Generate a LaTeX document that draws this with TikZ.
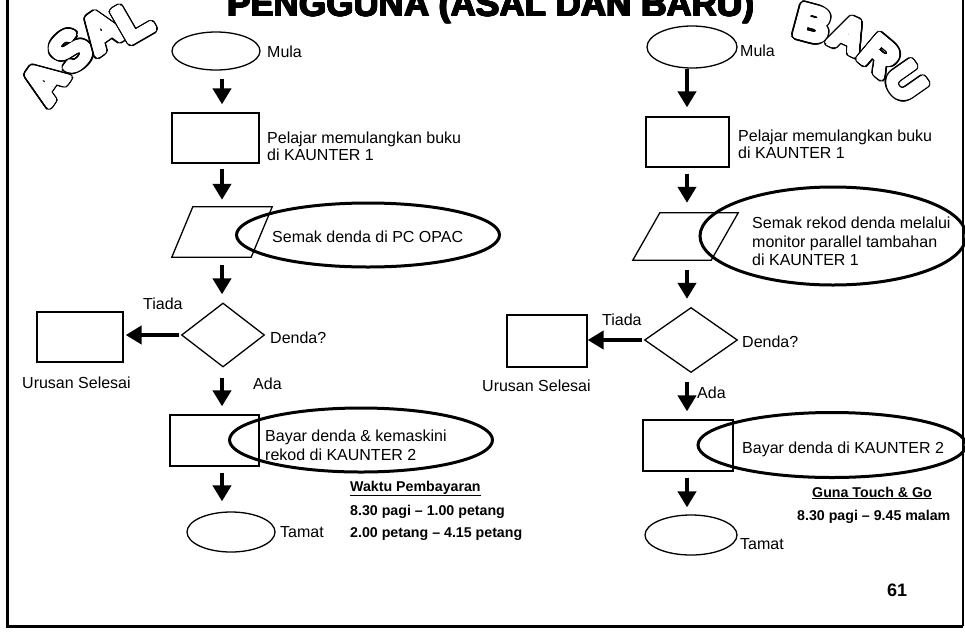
\documentclass[tikz,border=0pt]{standalone}
\usepackage{fontspec}
\setmainfont{Liberation Sans}
\usetikzlibrary{arrows.meta,shapes.geometric,calc}
% hollow (outlined) letter: black ring round a fattened white letter
\newcommand{\outletter}[5]{%
  \foreach \ang in {0,15,...,345}{%
    \node[olet, rotate=#3, text=black, font=\fontsize{#4}{#4}\selectfont\bfseries] at ($(#1,#2)+(\ang:4.2)$) {#5};
    \node[olet, rotate=#3, text=black, font=\fontsize{#4}{#4}\selectfont\bfseries] at ($(#1,#2)+(\ang:3.4)$) {#5};
  }%
  \foreach \ang in {0,15,...,345}{%
    \node[olet, rotate=#3, text=white, font=\fontsize{#4}{#4}\selectfont\bfseries] at ($(#1,#2)+(\ang:2.6)$) {#5};
  }%
  \foreach \ang in {0,45,...,315}{%
    \node[olet, rotate=#3, text=white, font=\fontsize{#4}{#4}\selectfont\bfseries] at ($(#1,#2)+(\ang:1.3)$) {#5};
  }%
  \node[olet, rotate=#3, text=white, font=\fontsize{#4}{#4}\selectfont\bfseries] at (#1,#2) {#5};
}
\tikzset{
  olet/.style={inner sep=0},
  lbl/.style={font=\fontsize{16}{19}\selectfont, inner sep=0, anchor=base west},
  sml/.style={font=\fontsize{14.2}{16}\selectfont\bfseries, inner sep=0, anchor=base west},
  ttl/.style={font=\fontsize{35}{40}\selectfont\bfseries, inner sep=0, anchor=base},
  oval/.style={ellipse, draw, line width=1.3pt, inner sep=0},
  bigoval/.style={ellipse, draw, line width=3pt, inner sep=0},
  boxn/.style={rectangle, draw, line width=1.3pt, inner sep=0},
  dia/.style={diamond, draw, line width=1.3pt, inner sep=0},
  parabox/.style={rectangle, inner sep=0},
  arr/.style={line width=4pt, -{Triangle[width=18pt,length=16pt]}}
}
\begin{document}
\begin{tikzpicture}[x=1pt,y=-1pt]
\useasboundingbox (0,0) rectangle (965,632);
\fill[white] (0,0) rectangle (965,632);
\clip (0,0) rectangle (965,632);

% frame
\draw[line width=3pt] (7,-10) -- (7,626) -- (963,626);
\draw[line width=2.5pt] (963,626) -- (963,-10);

% title (slightly heavier than plain bold)
\foreach \ang in {0,45,...,315}{\node[ttl] at ($(491,16)+(\ang:0.7)$) {PENGGUNA (ASAL DAN BARU)};}
\node[ttl] (title) at (491,16) {PENGGUNA (ASAL DAN BARU)};

% outlined words
\outletter{45}{82}{55}{52}{A}
\outletter{71}{51}{45}{52}{S}
\outletter{102}{31}{35}{52}{A}
\outletter{133}{21}{30}{52}{L}
\outletter{813}{24}{-15}{46}{B}
\outletter{849}{35}{-25}{46}{A}
\outletter{880}{56}{-40}{46}{R}
\outletter{906}{82}{-55}{46}{U}

\coordinate (lc) at (222,0);
\coordinate (rc) at (687,0);

% ---------- left (ASAL) ----------
\node[oval, minimum width=88pt, minimum height=38pt] (m1) at (216,51) {};
\node[boxn, minimum width=87pt, minimum height=50pt] (r1) at (215.5,138) {};
\node[parabox, minimum width=100pt, minimum height=50pt] (p1) at (222,232) {};
\draw[line width=1.3pt] ($(p1.north west)+(21,0)$) -- (p1.north east) -- ($(p1.south east)-(21,0)$) -- (p1.south west) -- cycle;
\node[bigoval, minimum width=263pt, minimum height=64pt] (e1) at (368,235) {};
\node[dia, minimum width=83pt, minimum height=64pt, aspect=1.3] (d1) at (223,335) {};
\node[boxn, minimum width=86pt, minimum height=50pt] (u1) at (80,337) {};
\node[boxn, minimum width=89pt, minimum height=51pt] (r2) at (214.5,440.5) {};
\node[bigoval, minimum width=263pt, minimum height=64pt] (e3) at (361,440) {};
\node[oval, minimum width=88pt, minimum height=40pt] (t1) at (231,532) {};

\draw[arr, shorten <=8pt, shorten >=8pt] (m1.south -| lc) -- (r1.north -| lc);
\draw[arr, shorten <=5pt, shorten >=7pt] (r1.south -| lc) -- (p1.north -| lc);
\draw[arr, shorten <=8pt, shorten >=8pt] (p1.south -| lc) -- (d1.north -| lc);
\draw[arr, shorten <=10pt, shorten >=8pt] (d1.south -| lc) -- (r2.north -| lc);
\draw[arr, shorten <=6pt, shorten >=10pt] (r2.south -| lc) -- (t1.north -| lc);
\draw[arr, shorten <=2pt, shorten >=2pt] (d1.west) -- (u1.east |- d1.west);

\node[lbl] (lm) at (267,57) {Mula};
\node[lbl] (lp1) at (267,143) {Pelajar memulangkan buku};
\node[lbl] (lp2) at (267,160) {di KAUNTER 1};
\node[lbl] (ls) at (272,242) {Semak denda di PC OPAC};
\node[lbl] (lti) at (143,309) {Tiada};
\node[lbl] (ld) at (270,343) {Denda?};
\node[lbl] (lu) at (22,388) {Urusan Selesai};
\node[lbl] (la) at (253,389) {Ada};
\node[lbl] (lb1) at (265,441) {Bayar denda \& kemaskini};
\node[lbl] (lb2) at (265,460) {rekod di KAUNTER 2};
\node[lbl] (lt) at (280,537) {Tamat};
\node[sml] (lw) at (350,491) {\underline{Waktu Pembayaran}};
\node[sml] (lw1) at (350,515) {8.30 pagi – 1.00 petang};
\node[sml] (lw2) at (350,537) {2.00 petang – 4.15 petang};

% ---------- right (BARU) ----------
\node[oval, minimum width=90pt, minimum height=42pt] (m2) at (692,47) {};
\node[boxn, minimum width=83pt, minimum height=50pt] (r3) at (687.5,142) {};
\node[parabox, minimum width=105pt, minimum height=47pt] (p2) at (685.5,236.5) {};
\draw[line width=1.3pt] ($(p2.north west)+(27,0)$) -- (p2.north east) -- ($(p2.south east)-(27,0)$) -- (p2.south west) -- cycle;
\node[bigoval, minimum width=266pt, minimum height=98pt] (e2) at (833,236) {};
\node[dia, minimum width=93pt, minimum height=65pt, aspect=1.4] (d2) at (691,340) {};
\node[boxn, minimum width=80pt, minimum height=52pt] (u2) at (547,341) {};
\node[boxn, minimum width=90pt, minimum height=51pt] (r4) at (688,445.5) {};
\node[bigoval, minimum width=268pt, minimum height=65pt] (e4) at (832,445) {};
\node[oval, minimum width=92pt, minimum height=40pt] (t2) at (691,535) {};

\draw[arr, shorten <=0pt, shorten >=9pt] (m2.south -| rc) -- (r3.north -| rc);
\draw[arr, shorten <=6pt, shorten >=10pt] (r3.south -| rc) -- (p2.north -| rc);
\draw[arr, shorten <=10pt, shorten >=8pt] (p2.south -| rc) -- (d2.north -| rc);
\draw[arr, shorten <=9pt, shorten >=8pt] (d2.south -| rc) -- (r4.north -| rc);
\draw[arr, shorten <=6pt, shorten >=7pt] (r4.south -| rc) -- (t2.north -| rc);
\draw[arr, shorten <=2pt, shorten >=0pt] (d2.west) -- (u2.east |- d2.west);

\node[lbl] (rm) at (740,56) {Mula};
\node[lbl] (rp1) at (738,141) {Pelajar memulangkan buku};
\node[lbl] (rp2) at (738,158) {di KAUNTER 1};
\node[lbl] (rs1) at (752,228) {Semak rekod denda melalui};
\node[lbl] (rs2) at (752,247) {monitor parallel tambahan};
\node[lbl] (rs3) at (752,265) {di KAUNTER 1};
\node[lbl] (rti) at (602,325) {Tiada};
\node[lbl] (rd) at (742,347) {Denda?};
\node[lbl] (ru) at (482,391) {Urusan Selesai};
\node[lbl] (ra) at (697,398) {Ada};
\node[lbl] (rb) at (742,453) {Bayar denda di KAUNTER 2};
\node[lbl] (rt) at (740,549) {Tamat};
\node[sml] (rg) at (812,497) {\underline{Guna Touch \& Go}};
\node[sml] (rg1) at (797,520) {8.30 pagi – 9.45 malam};
\node[font=\fontsize{18}{20}\selectfont\bfseries, inner sep=0, anchor=base west] (pg) at (887,596) {61};
\end{tikzpicture}
\end{document}
